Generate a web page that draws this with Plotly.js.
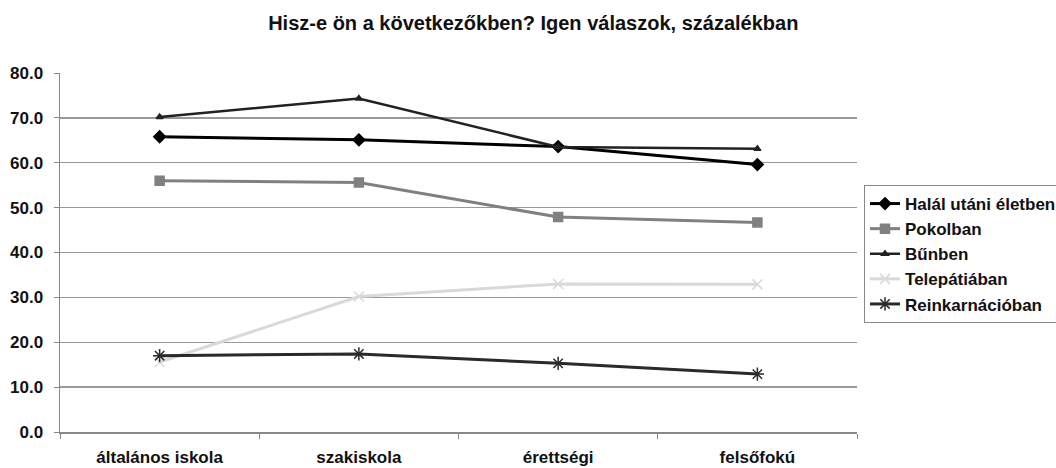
<!DOCTYPE html>
<html><head><meta charset="utf-8">
<script src="https://cdn.plot.ly/plotly-3.0.1.min.js"></script>
<style>html,body{margin:0;padding:0;background:#fff;overflow:hidden;}#chart{width:1056px;height:468px;}</style>
</head><body><div id="chart"></div>
<script>
const categories = ["általános iskola", "szakiskola", "érettségi", "felsőfokú"];
const halal = [65.8, 65.1, 63.6, 59.6];
const pokol = [56.0, 55.6, 47.9, 46.7];
const bun = [70.2, 74.3, 63.5, 63.1];
const telepatia = [15.6, 30.2, 33.0, 32.9];
const reinkarnacio = [17.0, 17.4, 15.3, 12.9];
const yTicks = [0, 10, 20, 30, 40, 50, 60, 70, 80];

const FAM = "Liberation Sans, Arial, sans-serif";
function tr(name, y, color, symbol, size, width) {
  return {x: categories, y: y, name: "<b>" + name + "</b>", type: "scatter", mode: "lines+markers",
    line: {color: color, width: width},
    marker: {symbol: symbol, size: size, color: color, line: {color: color, width: 1.5}}};
}
const data = [
  tr("Halál utáni életben", halal, "#000000", "diamond", 9, 3),
  tr("Pokolban", pokol, "#808080", "square", 9, 3),
  tr("Bűnben", bun, "#222222", "triangle-up", 6, 2.5),
  tr("Telepátiában", telepatia, "#d9d9d9", "x-thin-open", 10, 3),
  tr("Reinkarnációban", reinkarnacio, "#2a2a2a", "asterisk-open", 11, 3)
];
const layout = {
  width: 1056, height: 468,
  margin: {l: 60, r: 199, t: 73, b: 36, autoexpand: false},
  paper_bgcolor: "#fff", plot_bgcolor: "#fff",
  font: {family: FAM, size: 17, color: "#111"},
  title: {text: "<b>Hisz-e ön a következőkben? Igen válaszok, százalékban</b>",
    font: {family: FAM, size: 20, color: "#111"},
    x: 0.505, xref: "container", xanchor: "center", y: 0.95, yref: "container", yanchor: "middle"},
  xaxis: {type: "category", range: [-0.5, 3.5], tickson: "boundaries",
    ticks: "outside", ticklen: 5, tickcolor: "#888", showline: true, linecolor: "#888", linewidth: 1.5,
    showgrid: false, zeroline: false, ticklabelstandoff: 9,
    tickfont: {family: FAM, size: 17, color: "#111"},
    tickvals: categories, ticktext: categories.map(c => "<b>" + c + "</b>")},
  yaxis: {range: [0, 80], tickvals: yTicks, ticktext: yTicks.map(v => "<b>" + v.toFixed(1) + "</b>"),
    ticks: "outside", ticklen: 5, tickcolor: "#888", showline: true, linecolor: "#888", linewidth: 1.5,
    showgrid: true, gridcolor: "#999", gridwidth: 1.3, zeroline: false, ticklabelstandoff: 7,
    tickfont: {family: FAM, size: 17, color: "#111"}},
  legend: {x: 1.0088, xanchor: "left", y: 0.688, yanchor: "top",
    bordercolor: "#888", borderwidth: 1, bgcolor: "#fff",
    font: {family: FAM, size: 17, color: "#111"},
    tracegroupgap: 0, itemwidth: 30},
  showlegend: true
};
Plotly.newPlot("chart", data, layout, {staticPlot: true});
</script></body></html>
